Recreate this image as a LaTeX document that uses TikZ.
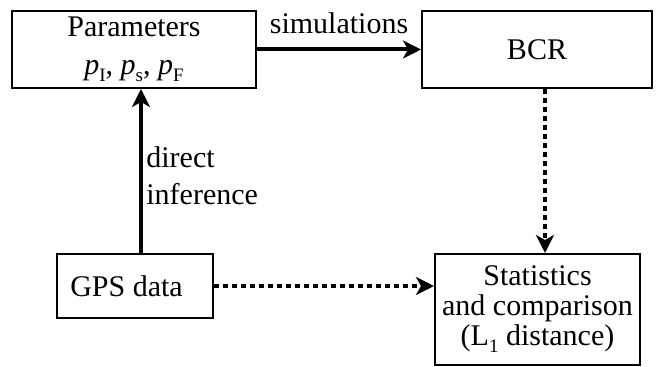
\documentclass[tikz,border=0pt]{standalone}
\usepackage{fontspec}
\setmainfont{Liberation Serif}
\usetikzlibrary{arrows.meta}
\newcommand{\lowsub}[1]{\raisebox{-0.5ex}{\fontsize{9.5}{9.5}\selectfont #1}}
\begin{document}
\begin{tikzpicture}[x=0.5pt,y=-0.5pt,
  box/.style={draw, line width=1pt, inner sep=0pt, align=center, font=\fontsize{15}{15}\selectfont},
  lbl/.style={inner sep=0pt, font=\fontsize{15}{18.5}\selectfont},
  solidarrow/.style={line width=2pt, -{Stealth[length=9pt,width=9pt,inset=2.5pt]}},
  dotarrow/.style={line width=2pt, dash pattern=on 2.5pt off 2pt, -{Stealth[length=9pt,width=9pt,inset=2.5pt]}}]
\useasboundingbox (0,0) rectangle (659,367);
\node[box, minimum width=122pt, minimum height=38.5pt] (params) at (134,49.5)
  {Parameters\\[4pt]\textit{p}\lowsub{I}, \textit{p}\lowsub{s}, \textit{p}\lowsub{F}};
\node[box, minimum width=115pt, minimum height=38.5pt] (bcr) at (537,49.5) {BCR};
\node[box, minimum width=78pt, minimum height=32pt] (gps) at (135,286) {};
\node[lbl] (gpstxt) at (126.5,286) {GPS data};
\node[box, minimum width=102.5pt, minimum height=55.5pt] (stats) at (537.5,309.5)
  {Statistics\\and comparison\\(L\lowsub{1} distance)};
\coordinate (ax) at (141,0);
\coordinate (bx) at (545,0);
\draw[solidarrow] (params.east) -- (bcr.west) node[lbl, midway, above=7pt] (simlbl) {simulations};
\draw[solidarrow] (gps.north -| ax) -- (params.south -| ax);
\node[lbl, anchor=west, align=left] (dilbl) at (146,176) {direct\\inference};
\draw[dotarrow] (bcr.south -| bx) -- (stats.north -| bx);
\draw[dotarrow] (gps.east) -- (stats.west |- gps.east);
\end{tikzpicture}
\end{document}
